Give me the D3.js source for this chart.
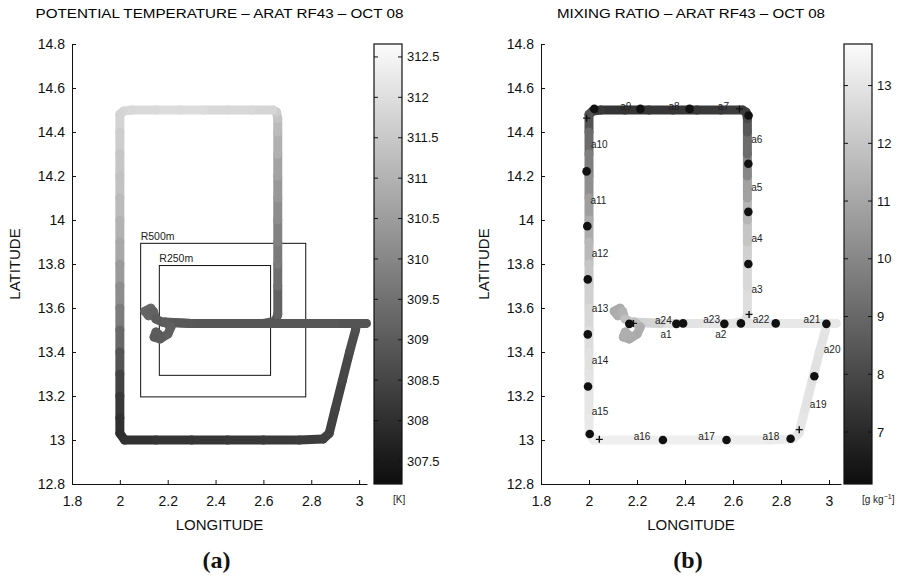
<!DOCTYPE html>
<html>
<head>
<meta charset="utf-8">
<script src="https://cdn.jsdelivr.net/npm/d3@7"></script>
<style>
  body { margin: 0; background: #fff; }
  svg { display: block; font-family: "Liberation Sans", Arial, sans-serif; }
</style>
</head>
<body>
<div id="wrapper"></div>
<script>
// flight track (lon, lat, potential temperature, mixing ratio)
const trackLon = [2.13, 2.105, 2.12, 2.14, 2.15, 2.18, 2.30, 2.45, 2.60, 2.65, 2.66,
  2.66, 2.66, 2.66, 2.66, 2.66, 2.66, 2.66, 2.66, 2.66, 2.655,
  2.64, 2.55, 2.45, 2.35, 2.25, 2.15, 2.05, 2.015, 2.00, 2.00,
  2.00, 2.00, 2.00, 2.00, 2.00, 2.00, 2.00, 2.00, 2.00, 2.00,
  2.00, 2.00, 2.00, 2.00, 2.02, 2.15, 2.30, 2.45, 2.60, 2.75,
  2.85, 2.875, 2.90, 2.93, 2.96, 2.985, 2.99, 3.03, 2.90, 2.75,
  2.60, 2.45, 2.30, 2.189, 2.214, 2.201, 2.168, 2.143, 2.151, 2.165];
const trackLat = [13.60, 13.585, 13.565, 13.585, 13.55, 13.535, 13.53, 13.53, 13.53, 13.54, 13.57,
  13.70, 13.80, 13.90, 14.00, 14.10, 14.20, 14.30, 14.40, 14.46, 14.49,
  14.50, 14.50, 14.50, 14.50, 14.50, 14.50, 14.50, 14.495, 14.48, 14.40,
  14.30, 14.20, 14.10, 14.00, 13.90, 13.80, 13.70, 13.60, 13.50, 13.40,
  13.30, 13.20, 13.10, 13.03, 13.00, 13.00, 13.00, 13.00, 13.00, 13.00,
  13.005, 13.03, 13.14, 13.27, 13.40, 13.50, 13.53, 13.53, 13.53, 13.53,
  13.53, 13.53, 13.53, 13.536, 13.514, 13.482, 13.459, 13.468, 13.491, 13.478];
const trackTheta = [309.3, 309.3, 309.2, 309.2, 309.1, 309.0, 308.9, 308.9, 308.9, 308.9, 309.0,
  309.3, 309.6, 309.8, 310.0, 310.3, 310.5, 310.8, 311.1, 311.3, 311.5,
  311.7, 311.9, 311.8, 311.9, 312.0, 311.9, 311.9, 311.8, 311.8, 311.7,
  311.5, 311.4, 311.3, 311.1, 310.9, 310.6, 310.3, 310.0, 309.5, 309.1,
  308.6, 308.3, 308.1, 307.95, 308.0, 308.1, 308.1, 308.2, 308.2, 308.3,
  308.3, 308.4, 308.4, 308.5, 308.6, 308.7, 308.8, 308.8, 308.9, 308.9,
  308.9, 308.9, 308.9, 309.0, 309.1, 309.1, 309.1, 309.0, 309.0, 309.0];
const trackQ = [11.2, 11.1, 11.2, 11.3, 11.5, 12.2, 12.9, 13.0, 13.0, 12.9, 12.9,
  12.7, 12.5, 12.2, 11.8, 11.2, 10.5, 9.5, 8.8, 8.2, 7.9,
  7.7, 7.6, 7.5, 7.4, 7.5, 7.3, 7.4, 7.6, 7.9, 8.8,
  9.5, 10.0, 10.5, 11.0, 11.4, 11.8, 12.2, 12.5, 12.7, 12.8,
  12.9, 13.0, 13.1, 13.2, 13.3, 13.4, 13.3, 13.4, 13.3, 13.3,
  13.2, 13.1, 13.0, 12.9, 12.9, 13.0, 13.0, 13.1, 13.1, 13.1,
  13.0, 13.0, 12.9, 12.0, 11.4, 11.2, 11.1, 11.2, 11.3, 11.3];

// sampling points (black dots) and turn marks (+) in panel b
const dotLon = [2.665, 2.664, 2.664, 2.664, 2.022, 2.214, 2.419, 1.99, 1.993, 1.995,
  1.995, 1.996, 2.003, 2.308, 2.573, 2.84, 2.939, 2.168, 2.364, 2.392, 2.564, 2.633, 2.778, 2.989];
const dotLat = [14.475, 14.256, 14.037, 13.80, 14.505, 14.505, 14.505, 14.221, 13.972, 13.73,
  13.48, 13.243, 13.027, 13.0, 13.0, 13.006, 13.29, 13.528, 13.528, 13.53, 13.528, 13.53, 13.53, 13.528];
const crossLon = [2.185, 2.667, 2.043, 2.876, 2.627, 1.99];
const crossLat = [13.53, 13.571, 13.003, 13.047, 14.505, 14.463];

const labelText = ["a1", "a2", "a3", "a4", "a5", "a6", "a7", "a8", "a9", "a10", "a11", "a12",
  "a13", "a14", "a15", "a16", "a17", "a18", "a19", "a20", "a21", "a22", "a23", "a24"];
const labelLon = [2.321, 2.549, 2.70, 2.70, 2.699, 2.699, 2.56, 2.354, 2.153, 2.043, 2.039, 2.046,
  2.046, 2.046, 2.046, 2.221, 2.49, 2.758, 2.955, 3.013, 2.929, 2.717, 2.511, 2.31];
const labelLat = [13.478, 13.478, 13.683, 13.915, 14.146, 14.365, 14.517, 14.517, 14.517, 14.342, 14.088, 13.846,
  13.60, 13.36, 13.13, 13.018, 13.018, 13.018, 13.163, 13.41, 13.55, 13.55, 13.547, 13.544];

// boxes in panel a
const boxName = ["R500m", "R250m"];
const boxLon0 = [2.087, 2.165];
const boxLon1 = [2.777, 2.630];
const boxLat0 = [13.196, 13.294];
const boxLat1 = [13.894, 13.793];

const lonTicks = [1.8, 2, 2.2, 2.4, 2.6, 2.8, 3];
const latTicks = [12.8, 13, 13.2, 13.4, 13.6, 13.8, 14, 14.2, 14.4, 14.6, 14.8];
const thetaTicks = [307.5, 308, 308.5, 309, 309.5, 310, 310.5, 311, 311.5, 312, 312.5];
const qTicks = [7, 8, 9, 10, 11, 12, 13];

const width = 902;
const height = 580;
const plotTop = 44;
const plotBottom = 484;

const svg = d3.select("#wrapper")
  .append("svg")
  .attr("width", width)
  .attr("height", height);

const defs = svg.append("defs");

function drawPanel(p) {
  const xScale = d3.scaleLinear().domain(p.lonDomain).range([p.left, p.right]);
  const yScale = d3.scaleLinear().domain([12.8, 14.8]).range([plotBottom, plotTop]);
  const cScale = d3.scaleLinear().domain(p.cDomain).range(["#0d0d0d", "#fbfbfb"]);
  const g = svg.append("g");

  // title
  g.append("text")
    .attr("x", (p.left + p.right) / 2)
    .attr("y", 17.5)
    .attr("text-anchor", "middle")
    .attr("textLength", p.titleLen)
    .attr("lengthAdjust", "spacingAndGlyphs")
    .style("font-size", "12.5px")
    .text(p.title);

  // boxes
  if (p.boxes) {
    boxName.forEach((name, i) => {
      g.append("rect")
        .attr("x", xScale(boxLon0[i]))
        .attr("y", yScale(boxLat1[i]))
        .attr("width", xScale(boxLon1[i]) - xScale(boxLon0[i]))
        .attr("height", yScale(boxLat0[i]) - yScale(boxLat1[i]))
        .attr("fill", "none")
        .attr("stroke", "#111")
        .attr("stroke-width", 1);
      g.append("text")
        .attr("x", xScale(boxLon0[i]))
        .attr("y", yScale(boxLat1[i]) - 3.5)
        .style("font-size", "10.5px")
        .attr("fill", "#222")
        .text(name);
    });
  }

  // track, one segment per pair of samples
  const segs = d3.range(trackLon.length - 1).map(i => ({
    x1: xScale(trackLon[i]), y1: yScale(trackLat[i]),
    x2: xScale(trackLon[i + 1]), y2: yScale(trackLat[i + 1]),
    v: (p.values[i] + p.values[i + 1]) / 2
  }));
  g.append("g").selectAll("line")
    .data(segs)
    .enter().append("line")
    .attr("x1", d => d.x1).attr("y1", d => d.y1)
    .attr("x2", d => d.x2).attr("y2", d => d.y2)
    .attr("stroke", d => cScale(d.v))
    .attr("stroke-width", 9)
    .attr("stroke-linecap", "round");

  if (p.marks) {
    g.append("g").selectAll("circle")
      .data(dotLon)
      .enter().append("circle")
      .attr("cx", (d, i) => xScale(d))
      .attr("cy", (d, i) => yScale(dotLat[i]))
      .attr("r", 4.3)
      .attr("fill", "#111");
    g.append("g").selectAll("path")
      .data(crossLon)
      .enter().append("path")
      .attr("d", "M-3.5,0H3.5M0,-3.5V3.5")
      .attr("transform", (d, i) => `translate(${xScale(d)},${yScale(crossLat[i])})`)
      .attr("stroke", "#111")
      .attr("stroke-width", 1.4);
    g.append("g").selectAll("text")
      .data(labelText)
      .enter().append("text")
      .attr("x", (d, i) => xScale(labelLon[i]))
      .attr("y", (d, i) => yScale(labelLat[i]))
      .attr("text-anchor", "middle")
      .attr("dy", "0.35em")
      .style("font-size", "10px")
      .attr("fill", "#222")
      .text(d => d);
  }

  // axes
  const xAxis = g.append("g")
    .attr("transform", `translate(0,${plotBottom})`)
    .call(d3.axisBottom(xScale).tickValues(lonTicks)
      .tickSizeInner(-4).tickSizeOuter(0).tickPadding(12)
      .tickFormat(d3.format("~g")));
  const yAxis = g.append("g")
    .attr("transform", `translate(${p.left},0)`)
    .call(d3.axisLeft(yScale).tickValues(latTicks)
      .tickSizeInner(-4).tickSizeOuter(0).tickPadding(7)
      .tickFormat(d3.format("~g")));
  [xAxis, yAxis].forEach(a => {
    a.selectAll("text").style("font-size", "14px").attr("fill", "#111")
      .style("font-family", "'Liberation Sans', Arial, sans-serif");
    a.selectAll("line, path").attr("stroke", "#111");
  });

  g.append("text")
    .attr("x", (p.left + p.right) / 2)
    .attr("y", 530)
    .attr("text-anchor", "middle")
    .style("font-size", "15px")
    .attr("fill", "#111")
    .text("LONGITUDE");
  g.append("text")
    .attr("transform", `translate(${p.left - 52},${(plotTop + plotBottom) / 2}) rotate(-90)`)
    .attr("text-anchor", "middle")
    .style("font-size", "15px")
    .attr("fill", "#111")
    .text("LATITUDE");

  // colorbar
  const gradId = "grad-" + p.key;
  const grad = defs.append("linearGradient")
    .attr("id", gradId)
    .attr("x1", 0).attr("y1", 1).attr("x2", 0).attr("y2", 0);
  grad.append("stop").attr("offset", "0%").attr("stop-color", cScale(p.cDomain[0]));
  grad.append("stop").attr("offset", "100%").attr("stop-color", cScale(p.cDomain[1]));

  const barScale = d3.scaleLinear().domain(p.cDomain).range([plotBottom, plotTop]);
  g.append("rect")
    .attr("x", p.barX0)
    .attr("y", plotTop)
    .attr("width", p.barX1 - p.barX0)
    .attr("height", plotBottom - plotTop)
    .attr("fill", `url(#${gradId})`)
    .attr("stroke", "#111")
    .attr("stroke-width", 1.2);
  const barTicks = g.append("g").selectAll("g")
    .data(p.cTicks)
    .enter().append("g")
    .attr("transform", d => `translate(0,${barScale(d)})`);
  barTicks.append("line")
    .attr("x1", p.barX0).attr("x2", p.barX0 + 4)
    .attr("stroke", "#111");
  barTicks.append("line")
    .attr("x1", p.barX1 - 4).attr("x2", p.barX1)
    .attr("stroke", "#111");
  barTicks.append("text")
    .attr("x", p.barX1 + 5)
    .attr("dy", "0.35em")
    .style("font-size", "13px")
    .attr("fill", "#111")
    .text(d => d);

  const unit = g.append("text")
    .attr("x", p.unitX)
    .attr("y", 503)
    .style("font-size", "10px")
    .attr("fill", "#222");
  if (p.key === "a") {
    unit.text("[K]");
  } else {
    unit.append("tspan").text("[g kg");
    unit.append("tspan").attr("dy", "-4").style("font-size", "7px").text("\u22121");
    unit.append("tspan").attr("dy", "4").text("]");
  }

  g.append("text")
    .attr("x", (p.left + p.right) / 2 - 3)
    .attr("y", 568)
    .attr("text-anchor", "middle")
    .style("font-family", "'Liberation Serif', 'Times New Roman', serif")
    .style("font-weight", "bold")
    .style("font-size", "24px")
    .attr("fill", "#111")
    .text(p.letter);
}

drawPanel({
  key: "a",
  title: "POTENTIAL TEMPERATURE \u2013 ARAT RF43 \u2013 OCT 08",
  titleLen: 368,
  left: 72, right: 367, lonDomain: [1.8, 3.033],
  values: trackTheta, cDomain: [307.215, 312.66], cTicks: thetaTicks,
  barX0: 374, barX1: 402, unitX: 393,
  boxes: true, marks: false, letter: "(a)"
});

drawPanel({
  key: "b",
  title: "MIXING RATIO \u2013 ARAT RF43 \u2013 OCT 08",
  titleLen: 268,
  left: 541, right: 841, lonDomain: [1.8, 3.05],
  values: trackQ, cDomain: [6.1, 13.72], cTicks: qTicks,
  barX0: 844, barX1: 872, unitX: 862,
  boxes: false, marks: true, letter: "(b)"
});
</script>
</body>
</html>
